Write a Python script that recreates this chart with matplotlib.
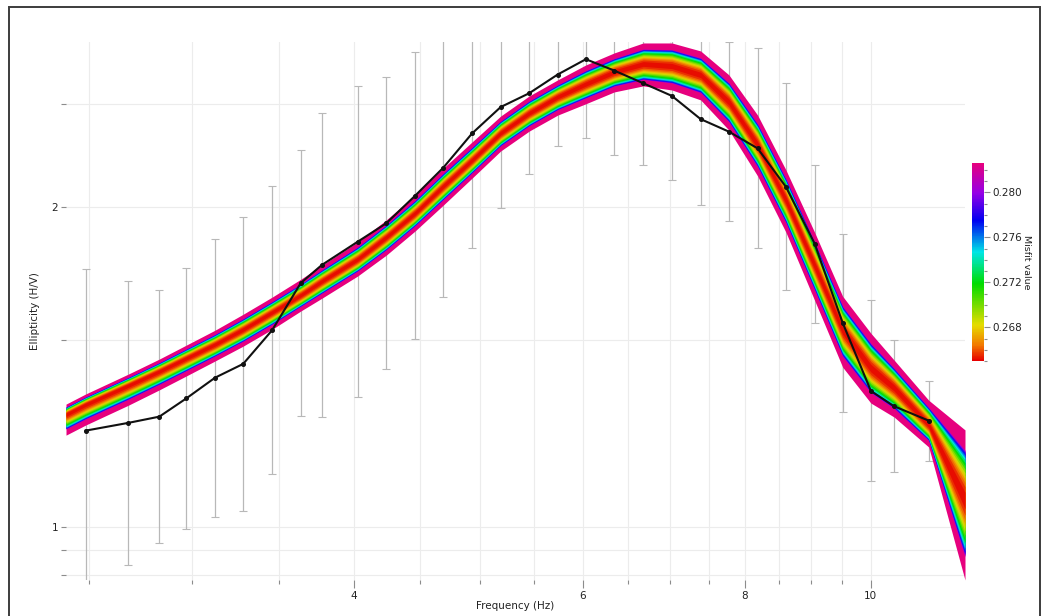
import matplotlib
matplotlib.use("Agg")
import matplotlib.pyplot as plt
import numpy as np
from matplotlib.colors import LinearSegmentedColormap, Normalize
from matplotlib.cm import ScalarMappable
from matplotlib.ticker import NullFormatter, FormatStrFormatter
from matplotlib.patches import Rectangle

# measured ellipticity curve, std given as a log-normal factor
freq = [2.486, 2.682, 2.833, 2.971, 3.127, 3.287, 3.460, 3.640, 3.779, 4.026,
        4.236, 4.458, 4.687, 4.932, 5.188, 5.458, 5.740, 6.034, 6.345, 6.680,
        7.028, 7.395, 7.775, 8.181, 8.602, 9.050, 9.512, 10.00, 10.42, 11.08]
ell = [1.232, 1.253, 1.270, 1.321, 1.382, 1.424, 1.532, 1.697, 1.765, 1.856,
       1.932, 2.051, 2.180, 2.348, 2.486, 2.562, 2.668, 2.758, 2.691, 2.618,
       2.547, 2.422, 2.357, 2.273, 2.091, 1.849, 1.557, 1.343, 1.299, 1.259]
ell_std = [1.420, 1.360, 1.316, 1.326, 1.352, 1.376, 1.366, 1.334, 1.390, 1.401,
           1.373, 1.366, 1.325, 1.283, 1.245, 1.192, 1.169, 1.187, 1.202, 1.194,
           1.201, 1.206, 1.215, 1.242, 1.252, 1.187, 1.213, 1.217, 1.154, 1.091]

# inverted models: upper envelope, best model, lower envelope
model_freq = [2.401] + freq + [11.816]
model_top = [1.305, 1.334, 1.393, 1.439, 1.483, 1.532, 1.586, 1.646, 1.711, 1.764,
             1.855, 1.946, 2.054, 2.178, 2.305, 2.438, 2.547, 2.637, 2.724, 2.796,
             2.857, 2.857, 2.808, 2.666, 2.443, 2.169, 1.895, 1.649, 1.522, 1.436,
             1.316, 1.234]
model_best = [1.277, 1.305, 1.360, 1.402, 1.442, 1.486, 1.535, 1.593, 1.653, 1.704,
              1.787, 1.875, 1.975, 2.095, 2.216, 2.350, 2.454, 2.542, 2.614, 2.683,
              2.730, 2.718, 2.666, 2.514, 2.290, 2.032, 1.764, 1.532, 1.411, 1.352,
              1.247, 1.060]
model_bottom = [1.220, 1.247, 1.302, 1.346, 1.387, 1.433, 1.480, 1.535, 1.597, 1.642,
                1.723, 1.803, 1.900, 2.010, 2.131, 2.260, 2.360, 2.443, 2.504, 2.569,
                2.603, 2.580, 2.525, 2.365, 2.141, 1.895, 1.635, 1.414, 1.308, 1.269,
                1.189, 0.891]

# misfit of each group of models (worst first) and its spread around the best one
misfit_levels = [0.2830, 0.2808, 0.2795, 0.2782, 0.2770, 0.2758, 0.2745, 0.2732,
                 0.2720, 0.2708, 0.2696, 0.2686, 0.2677, 0.2669, 0.2662, 0.2656,
                 0.2652]
misfit_spread = [1.00, 0.71, 0.695, 0.68, 0.66, 0.635, 0.605, 0.57,
                 0.53, 0.485, 0.44, 0.39, 0.345, 0.30, 0.25, 0.19,
                 0.11]

cmap = LinearSegmentedColormap.from_list("misfit", [
    (0.00, "#e60000"), (0.08, "#f27a00"), (0.18, "#e6dc00"), (0.39, "#00dc00"),
    (0.55, "#00e6e6"), (0.71, "#0000f0"), (0.85, "#9600e6"), (1.00, "#e6007e")])
norm = Normalize(vmin=0.2650, vmax=0.2826)

W, H = 1045, 616
fig = plt.figure(figsize=(W / 100, H / 100), dpi=100)
ax = fig.add_axes([66 / W, 1 - 580 / H, 899 / W, 538 / H])
ax.set_xscale("log")
ax.set_yscale("log")
ax.set_xlim(2.401, 11.816)
ax.set_ylim(0.891, 2.863)

# error bars of the measured curve sit behind the models
lower = [e - e / s for e, s in zip(ell, ell_std)]
upper = [e * s - e for e, s in zip(ell, ell_std)]
ax.errorbar(freq, ell, yerr=[lower, upper], fmt="none", ecolor="#b8b8b8",
            elinewidth=0.9, capsize=2.8, capthick=0.8, zorder=2)

best = np.array(model_best)
top = np.array(model_top)
bottom = np.array(model_bottom)
for m, s in zip(misfit_levels, misfit_spread):
    hi = best * (top / best) ** s
    lo = best * (bottom / best) ** s
    ax.fill_between(model_freq, lo, hi, color=cmap(norm(m)), lw=0, zorder=3)

ax.plot(freq, ell, color="#111111", lw=1.5, marker="o", ms=2.6, zorder=5)

ax.set_xticks([4, 6, 8, 10])
ax.set_xticklabels(["4", "6", "8", "10"])
ax.set_xticks([2.5, 3, 3.5, 4.5, 5, 5.5, 6.5, 7, 7.5, 8.5, 9, 9.5], minor=True)
ax.set_yticks([1, 2])
ax.set_yticklabels(["1", "2"])
ax.set_yticks([0.9, 0.95, 1.5, 2.5], minor=True)
ax.xaxis.set_minor_formatter(NullFormatter())
ax.yaxis.set_minor_formatter(NullFormatter())
ax.tick_params(which="both", direction="out", color="#8c8c8c", width=0.8,
               labelsize=7.5, pad=2, labelcolor="#222222")
ax.tick_params(axis="x", which="major", length=6)
ax.tick_params(axis="x", which="minor", length=3)
ax.tick_params(axis="y", which="both", length=3.5)
ax.grid(True, which="both", color="#ececec", lw=0.8)
ax.set_axisbelow(True)
for sp in ax.spines.values():
    sp.set_visible(False)

ax.set_xlabel("Frequency (Hz)", fontsize=7.5, color="#222222")
ax.xaxis.set_label_coords(0.5, -(606 - 580) / 538)
ax.xaxis.label.set_va("center")
ax.set_ylabel("Ellipticity (H/V)", fontsize=7.5, color="#222222")
ax.yaxis.set_label_coords((35 - 66) / 899, 0.5)
ax.yaxis.label.set_va("center")

# misfit colour scale
cax = fig.add_axes([972 / W, 1 - 361 / H, 12 / W, 198 / H])
cbar = fig.colorbar(ScalarMappable(norm=norm, cmap=cmap), cax=cax)
cbar.outline.set_visible(False)
cbar.set_ticks([0.268, 0.272, 0.276, 0.280])
cax.yaxis.set_major_formatter(FormatStrFormatter("%.3f"))
cax.set_yticks(np.arange(0.265, 0.2826, 0.001), minor=True)
cax.tick_params(which="both", direction="out", color="#8c8c8c", width=0.8,
                labelsize=7.5, pad=2, labelcolor="#222222")
cax.tick_params(which="major", length=4)
cax.tick_params(which="minor", length=2.5)
fig.text(1026.7 / W, 1 - 262 / H, "Misfit value", rotation=270, fontsize=6.8,
         ha="center", va="center", color="#222222")

fig.patches.append(Rectangle((9 / W, -0.1), (1040 - 9) / W, (H - 7) / H + 0.1,
                             transform=fig.transFigure, fill=False,
                             ec="#3c3c3c", lw=1.4))

fig.savefig("out.png", dpi=100)
